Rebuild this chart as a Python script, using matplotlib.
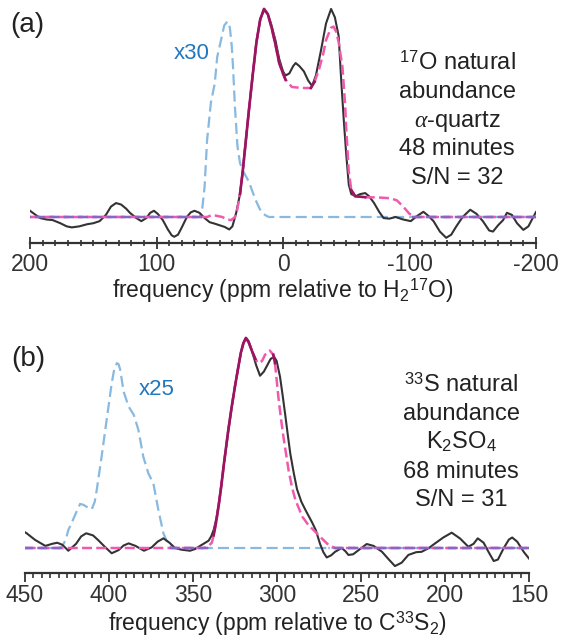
"""Two-panel natural-abundance NMR spectra (17O alpha-quartz, 33S K2SO4)."""
import numpy as np
import matplotlib
matplotlib.use("Agg")
import matplotlib.pyplot as plt
from matplotlib.ticker import MultipleLocator

plt.rcParams["font.family"] = ["Liberation Sans", "DejaVu Sans"]
plt.rcParams["mathtext.fontset"] = "custom"
plt.rcParams["mathtext.rm"] = "Liberation Sans"
plt.rcParams["mathtext.it"] = "Liberation Serif:italic"
plt.rcParams["mathtext.bf"] = "Liberation Sans:bold"
plt.rcParams["axes.unicode_minus"] = False

# ---- panel (a): 17O, ppm vs normalised intensity ----
a_exp_x = [200, 196, 192, 187, 182, 176, 171, 167, 161, 155, 150, 145, 140, 136, 132,
           128, 124, 121, 116, 112, 108, 105, 102, 99, 95, 91, 88, 86, 83, 80, 76, 73,
           70, 66, 62, 58, 54, 50, 46, 42.5, 40, 37, 34, 32, 29.5, 27, 24, 21, 18, 15,
           12, 9.5, 6, 3, 0, -2, -5, -8, -10, -13, -16.5, -20, -23, -26, -30, -34, -38,
           -41, -44, -46, -48, -50, -52, -54, -57.5, -61, -65, -68, -72, -76, -79.5,
           -84, -89, -95, -101, -106, -111, -115, -119, -124, -129, -133, -137, -142,
           -148, -153, -158, -163, -166, -170, -174, -177, -181, -185, -190, -194, -197,
           -200]
a_exp_y = [0.03, 0.012, -0.005, -0.012, -0.015, -0.03, -0.045, -0.05, -0.045, -0.035,
           -0.03, -0.02, 0.01, 0.05, 0.067, 0.06, 0.04, 0.02, -0.005, -0.02, -0.005,
           0.02, 0.03, 0.015, -0.015, -0.06, -0.088, -0.095, -0.085, -0.05, 0.0, 0.022,
           0.03, 0.02, -0.005, -0.025, -0.032, -0.04, -0.048, -0.06, -0.045, 0.02, 0.11,
           0.21, 0.36, 0.51, 0.68, 0.84, 0.95, 0.995, 0.975, 0.93, 0.85, 0.76, 0.70,
           0.68, 0.69, 0.725, 0.74, 0.725, 0.70, 0.655, 0.63, 0.68, 0.80, 0.93, 1.0,
           0.96, 0.87, 0.66, 0.47, 0.30, 0.155, 0.11, 0.10, 0.11, 0.115, 0.10, 0.067,
           0.025, -0.005, -0.008, 0.0, -0.012, -0.02, 0.005, 0.025, 0.005, -0.02, -0.07,
           -0.1, -0.085, -0.045, 0.0, 0.035, 0.015, -0.02, -0.065, -0.07, -0.04, -0.015,
           0.02, 0.01, -0.03, -0.062, -0.045, -0.01, 0.024]
a_fit_x = [200, 60, 56, 52, 48, 44, 41, 38, 36, 34, 32, 29.5, 27, 24, 21, 18, 15, 12, 9,
           6, 3, 0, -2, -7, -15, -22, -25, -28.5, -32, -34, -38, -40, -42, -44, -47, -49,
           -50, -52, -54, -57, -65, -75, -85, -90, -95, -100, -105, -200]
a_fit_y = [0, 0, 0.01, 0.005, 0.0, -0.012, -0.015, 0.0, 0.04, 0.11, 0.21, 0.36, 0.51,
           0.68, 0.84, 0.95, 1.0, 0.975, 0.91, 0.83, 0.74, 0.69, 0.66, 0.625, 0.62, 0.62,
           0.65, 0.71, 0.79, 0.85, 0.91, 0.915, 0.89, 0.84, 0.72, 0.55, 0.42, 0.22, 0.13,
           0.10, 0.095, 0.094, 0.09, 0.08, 0.05, 0.015, 0.0, 0]
a_sc_x = [200, 66, 64, 62, 60, 57, 54, 52, 49, 46.5, 44, 42, 40.5, 39.5, 38, 36, 34, 32,
          27, 24, 21.5, 18.5, 16.5, 13, 11, -200]
a_sc_y = [0, 0, 0.03, 0.145, 0.37, 0.55, 0.64, 0.77, 0.85, 0.92, 0.94, 0.91, 0.82, 0.72,
          0.53, 0.34, 0.26, 0.226, 0.17, 0.12, 0.08, 0.04, 0.02, 0.005, 0, 0]

# ---- panel (b): 33S ----
b_exp_x = [450, 449, 443.9, 437.9, 433.8, 430.8, 427.7, 424.2, 419.6, 416.6, 413.6, 409.5,
           406.5, 402.4, 398.4, 394.3, 391.3, 388.3, 384.2, 379.2, 374.6, 371.1, 367.6,
           364, 360.7, 356.9, 351.8, 348.8, 345.8, 342.7, 340.7, 339.2, 337.7, 336.1,
           334.6, 333.1, 331.6, 329, 327, 325, 323.5, 321.5, 320, 318.5, 316.9, 315,
           312.4, 310.1, 307.8, 305.8, 303.8, 301.7, 300.2, 298.2, 296.7, 295.2, 293.6,
           292.1, 290.1, 288.1, 285.5, 283, 281, 279, 276.9, 274.4, 272.4, 270.4, 267.8,
           265.4, 261.5, 259.3, 257.5, 254.7, 250.6, 246.6, 242.5, 237.5, 233.4, 229.8,
           225.8, 221.8, 217.2, 213.9, 209.6, 205.9, 201, 196, 191, 186.1, 183, 180.5,
           177, 174, 171, 168.5, 165, 162, 160, 157, 153, 150]
b_exp_y = [0.075, 0.07, 0.038, 0.01, 0.02, 0.025, 0.015, -0.013, 0.02, 0.055, 0.07, 0.06,
           0.038, 0.005, -0.025, -0.01, 0.012, 0.022, 0.01, -0.013, 0.003, 0.03, 0.046,
           0.025, 0.0, -0.008, -0.013, -0.005, 0.01, 0.025, 0.035, 0.055, 0.086, 0.14,
           0.21, 0.30, 0.40, 0.56, 0.67, 0.77, 0.84, 0.93, 0.975, 1.0, 0.985, 0.94, 0.87,
           0.82, 0.84, 0.87, 0.90, 0.91, 0.89, 0.815, 0.73, 0.64, 0.54, 0.45, 0.36, 0.28,
           0.22, 0.18, 0.15, 0.12, 0.085, 0.02, -0.02, -0.045, -0.035, -0.018, 0.0,
           -0.015, -0.033, -0.03, -0.005, 0.019, 0.01, -0.018, -0.055, -0.086, -0.07,
           -0.033, -0.02, -0.018, 0.0, 0.022, 0.05, 0.073, 0.045, 0.006, 0.02, 0.046,
           0.025, -0.02, -0.062, -0.055, 0.0, 0.04, 0.05, 0.03, -0.02, -0.05]
b_fit_x = [450, 343.5, 340.8, 338.8, 337.7, 336.1, 334.6, 333.1, 331.6, 329, 327, 325,
           323.5, 321.5, 320, 318.5, 316.9, 315, 312.9, 311.2, 308.9, 307.1, 304.3, 302.2,
           301.2, 299.2, 297.7, 296.2, 293.1, 291.1, 289.1, 285, 281.4, 277.3, 273.4,
           269.4, 265.4, 150]
b_fit_y = [0, 0, 0.01, 0.025, 0.06, 0.13, 0.21, 0.30, 0.40, 0.56, 0.67, 0.77, 0.84, 0.93,
           0.975, 1.0, 0.98, 0.94, 0.90, 0.88, 0.89, 0.92, 0.94, 0.92, 0.88, 0.72, 0.62,
           0.53, 0.37, 0.29, 0.23, 0.15, 0.11, 0.078, 0.046, 0.015, 0.0, 0]
b_sc_x = [450, 430, 428.1, 425.7, 424.2, 422.2, 420.2, 417.2, 415.1, 413.3, 410.3, 408.5,
          407.3, 404.4, 401.4, 398.4, 396.9, 395.3, 394.3, 393.3, 391.3, 388.3, 385.2,
          382.5, 379.6, 376.6, 373.6, 370.6, 367.6, 364.7, 362, 150]
b_sc_y = [0, 0, 0.005, 0.04, 0.086, 0.12, 0.157, 0.21, 0.205, 0.196, 0.184, 0.22, 0.276,
          0.435, 0.61, 0.784, 0.85, 0.88, 0.875, 0.848, 0.744, 0.673, 0.633, 0.562, 0.435,
          0.356, 0.308, 0.18, 0.07, 0.015, 0.0, 0]

BLACK = "#333333"
PINK = "#f05aae"
BLUE = "#88b9e0"
PURPLE = "#8a64c6"
MAGENTA = "#9c1461"
TXT_BLUE = "#2178be"

W, H = 563, 641


def fx(px):
    return px / W


def fy(py):
    return 1 - py / H


def span(x, y):
    x, y = np.asarray(x), np.asarray(y)
    nz = x[y != 0]
    return nz.min(), nz.max()


def draw(ax, ex, ey, fx_, fy_, sx, sy, lo, hi):
    ax.plot(sx, sy, color=BLUE, lw=1.6, dashes=(5, 2.3), zorder=2)
    ax.plot(ex, ey, color=BLACK, lw=1.5, zorder=3)
    ax.plot(fx_, fy_, color=PINK, lw=1.8, dashes=(4, 1.7), zorder=4)
    # baseline where both fit and scaled spectrum sit at zero -> purple
    g = np.linspace(lo, hi, 2000)
    s0, s1 = span(sx, sy)
    p0, p1 = span(fx_, fy_)
    busy = ((g >= s0) & (g <= s1)) | ((g >= p0) & (g <= p1))
    ax.plot(g, np.where(busy, np.nan, 0.0), color=PURPLE, lw=1.8, dashes=(4, 1.7),
            zorder=5)
    # fit lying on the experimental trace shows dark magenta
    fxa, fya = np.asarray(fx_), np.asarray(fy_)
    ref = np.interp(fxa[::-1], np.asarray(ex)[::-1], np.asarray(ey)[::-1])[::-1]
    close = (np.abs(fya - ref) < 0.035) & (fya > 0.04)
    ax.plot(fxa, np.where(close, fya, np.nan), color=MAGENTA, lw=1.9, zorder=6)

    for s in ("left", "right", "top"):
        ax.spines[s].set_visible(False)
    ax.spines["bottom"].set_linewidth(1.6)
    ax.spines["bottom"].set_color(BLACK)
    ax.set_yticks([])
    ax.set_xlim(hi, lo)
    ax.tick_params(axis="x", colors=BLACK, labelsize=16.5, labelcolor="#333333")


fig = plt.figure(figsize=(W / 100, H / 100), dpi=100, facecolor="white")

ax_a = fig.add_axes([fx(30), fy(243), fx(536 - 30), 243 / H])
draw(ax_a, a_exp_x, a_exp_y, a_fit_x, a_fit_y, a_sc_x, a_sc_y, -200, 200)
ax_a.set_ylim(-0.125, 1.043)
ax_a.xaxis.set_major_locator(MultipleLocator(100))
ax_a.xaxis.set_minor_locator(MultipleLocator(10))
ax_a.tick_params(axis="x", which="major", direction="inout", length=8, width=1.3, pad=3)
ax_a.tick_params(axis="x", which="minor", direction="inout", length=4.5, width=1.2,
                 color=BLACK)

ax_b = fig.add_axes([fx(25), fy(573), fx(529 - 25), (573 - 331) / H])
draw(ax_b, b_exp_x, b_exp_y, b_fit_x, b_fit_y, b_sc_x, b_sc_y, 150, 450)
ax_b.set_ylim(-0.119, 1.033)
ax_b.xaxis.set_major_locator(MultipleLocator(50))
ax_b.xaxis.set_minor_locator(MultipleLocator(5))
ax_b.tick_params(axis="x", which="major", direction="out", length=6.5, width=1.3, pad=1.5)
ax_b.tick_params(axis="x", which="minor", direction="out", length=3.5, width=1.2,
                 color=BLACK)

# axis titles
fig.text(fx(283), fy(298), r"frequency (ppm relative to H$_2$$^{17}$O)",
         ha="center", va="baseline", fontsize=16.5, color="#222222")
fig.text(fx(277), fy(631), r"frequency (ppm relative to C$^{33}$S$_2$)",
         ha="center", va="baseline", fontsize=16.5, color="#222222")

# panel letters and scale factors
fig.text(fx(27), fy(25), "(a)", ha="center", va="center", fontsize=20, color="#222222")
fig.text(fx(28), fy(359), "(b)", ha="center", va="center", fontsize=20, color="#222222")
fig.text(fx(192), fy(59), "x30", ha="center", va="baseline", fontsize=16, color=TXT_BLUE)
fig.text(fx(157), fy(395), "x25", ha="center", va="baseline", fontsize=16, color=TXT_BLUE)

lines_a = [r"$^{17}$O natural", "abundance", r"$\alpha$-quartz", "48 minutes", "S/N = 32"]
base_a = [70, 98.5, 127, 155.5, 184]
for t, y in zip(lines_a, base_a):
    fig.text(fx(457), fy(y), t, ha="center", va="baseline", fontsize=17, color="#222222")

lines_b = [r"$^{33}$S natural", "abundance", r"K$_2$SO$_4$", "68 minutes", "S/N = 31"]
base_b = [392, 420.5, 449, 477.5, 506]
for t, y in zip(lines_b, base_b):
    fig.text(fx(461), fy(y), t, ha="center", va="baseline", fontsize=17, color="#222222")

fig.savefig("out.png", dpi=100, facecolor="white")
